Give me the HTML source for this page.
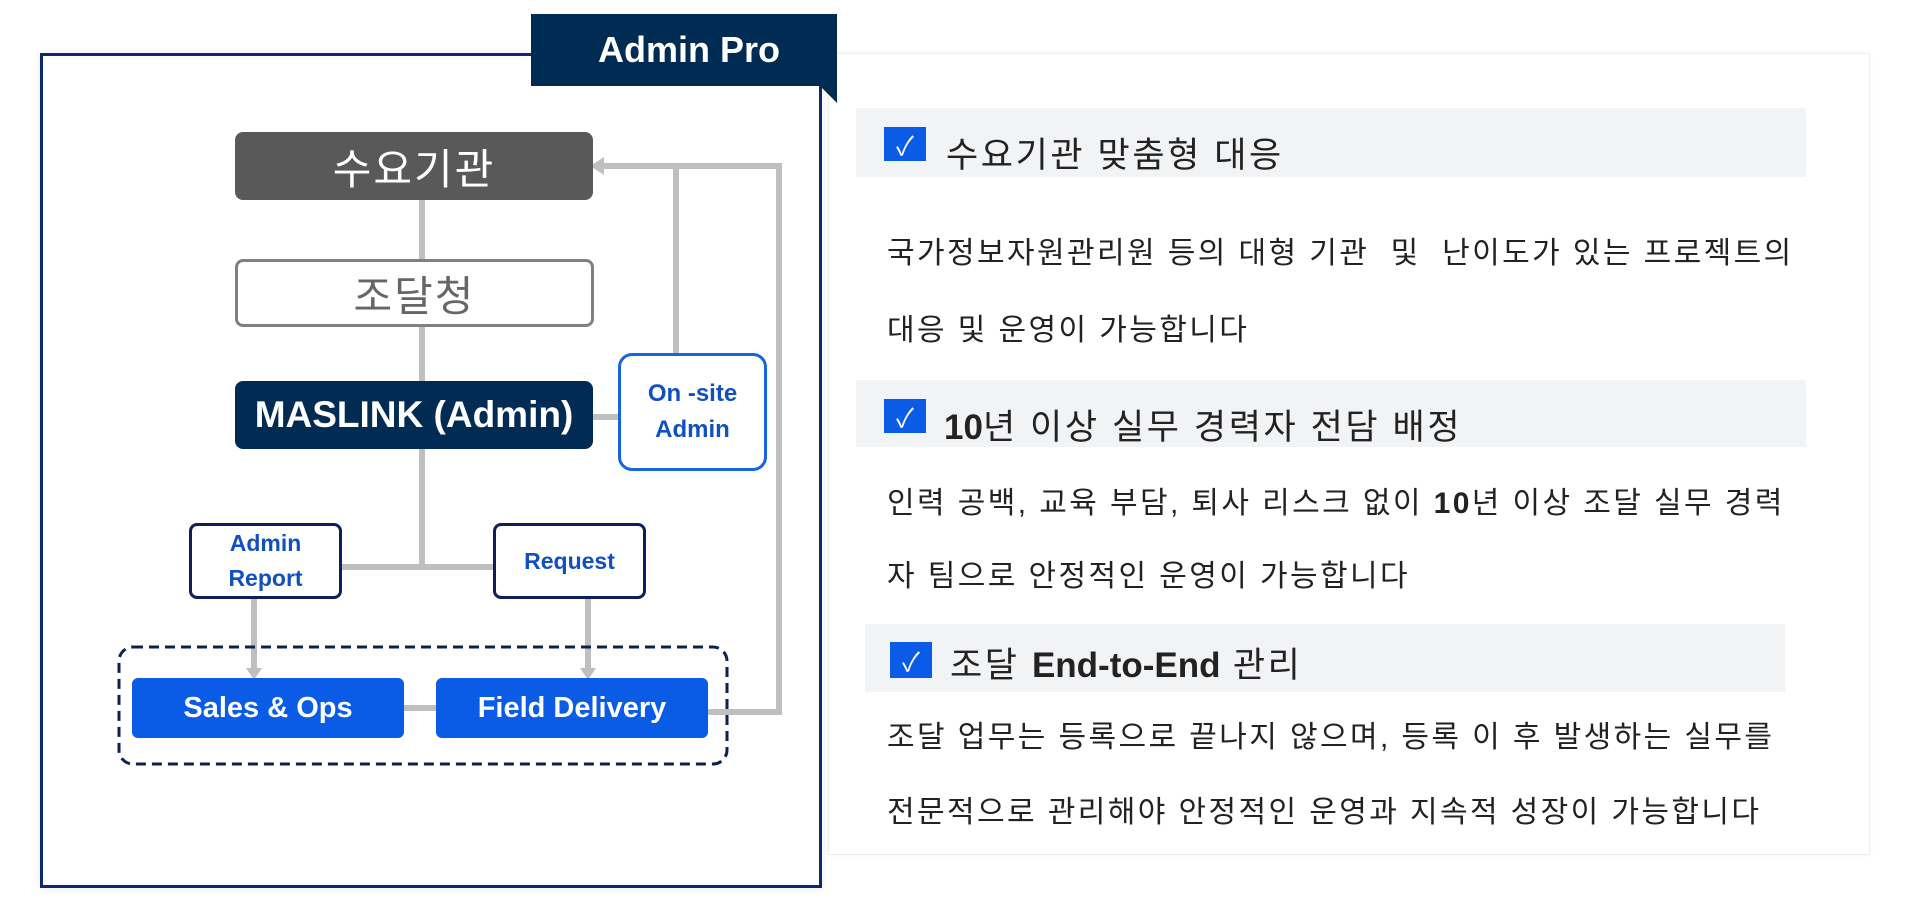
<!DOCTYPE html>
<html><head><meta charset="utf-8"><style>
body{margin:0;width:1912px;height:902px;background:#fff;position:relative;overflow:hidden;font-family:"Liberation Sans","Noto Sans CJK KR",sans-serif}
.a{position:absolute;box-sizing:border-box}
.c{display:flex;align-items:center;justify-content:center;text-align:center}
.hb{background:#f2f3f5}
.cb{background:#0a5ce6;color:#fff;font-size:26px;width:42px;height:34px}
.ht{font-size:35px;color:#222;white-space:nowrap;letter-spacing:2.6px}
.bt{font-size:30px;color:#222;white-space:nowrap;letter-spacing:2.4px}
.ht b{letter-spacing:0}
</style></head><body>
<div class="a" style="left:828px;top:53px;width:1042px;height:802px;border:1px solid #eee;box-shadow:0 0 6px rgba(0,0,0,0.04)"></div>
<div class="a" style="left:40px;top:53px;width:782px;height:835px;border:3px solid #0d2a6b;box-shadow:0 0 8px rgba(0,0,0,0.08);background:#fff"></div>
<div class="a c" style="left:531px;top:14px;width:306px;height:72px;background:#002b52;color:#fff;font-weight:bold;font-size:36px;padding-left:10px">Admin Pro</div>
<div class="a" style="left:820px;top:86px;width:0;height:0;border-left:17px solid #002b52;border-bottom:17px solid transparent;transform:translateX(-17px) scaleX(-1);transform-origin:right"></div>
<svg class="a" style="left:0;top:0" width="900" height="902">
<g stroke="#bfbfbf" stroke-width="6" fill="none">
<line x1="422" y1="200" x2="422" y2="567"/>
<line x1="342" y1="567" x2="493" y2="567"/>
<line x1="593" y1="417" x2="618" y2="417"/>
<line x1="676" y1="353" x2="676" y2="166"/>
<polyline points="600,166 779,166 779,712 708,712"/>
<line x1="404" y1="708" x2="436" y2="708"/>
<line x1="254" y1="599" x2="254" y2="670"/>
<line x1="588" y1="599" x2="588" y2="670"/>
</g>
<g fill="#bfbfbf">
<polygon points="590,166 604,157 604,175"/>
<polygon points="254,680 246,668 262,668"/>
<polygon points="588,680 580,668 596,668"/>
</g>
<rect x="119" y="647" width="608" height="117" rx="14" fill="none" stroke="#0d2252" stroke-width="3" stroke-dasharray="10,6"/>
</svg>
<div class="a c" style="left:235px;top:132px;width:358px;height:68px;background:#595959;border-radius:8px;color:#fff;font-size:42px;letter-spacing:2px">수요기관</div>
<div class="a c" style="left:235px;top:259px;width:359px;height:68px;border:3px solid #808080;border-radius:8px;color:#666;font-size:42px;letter-spacing:2px;background:#fff">조달청</div>
<div class="a c" style="left:235px;top:381px;width:358px;height:68px;background:#002b52;border-radius:8px;color:#fff;font-size:37px;font-weight:bold">MASLINK (Admin)</div>
<div class="a c" style="left:618px;top:353px;width:149px;height:118px;border:3px solid #1565e0;border-radius:14px;color:#1050c0;font-size:24px;font-weight:bold;line-height:36px;background:#fff">On -site<br>Admin</div>
<div class="a c" style="left:189px;top:523px;width:153px;height:76px;border:3px solid #0d1f5c;border-radius:8px;color:#1050c0;font-size:23px;font-weight:bold;line-height:35px;background:#fff">Admin<br>Report</div>
<div class="a c" style="left:493px;top:523px;width:153px;height:76px;border:3px solid #0d1f5c;border-radius:8px;color:#1050c0;font-size:23px;font-weight:bold;background:#fff">Request</div>
<div class="a c" style="left:132px;top:678px;width:272px;height:60px;background:#0a5ce6;border-radius:6px;color:#fff;font-size:29px;font-weight:bold">Sales &amp; Ops</div>
<div class="a c" style="left:436px;top:678px;width:272px;height:60px;background:#0a5ce6;border-radius:6px;color:#fff;font-size:29px;font-weight:bold">Field Delivery</div>

<div class="a hb" style="left:856px;top:108px;width:950px;height:69px"></div>
<div class="a cb c" style="left:884px;top:127px">✓</div>
<div class="a ht" style="left:946px;top:127px">수요기관 맞춤형 대응</div>
<div class="a bt" style="left:887px;top:228px">국가정보자원관리원 등의 대형 기관&nbsp; 및&nbsp; 난이도가 있는 프로젝트의</div>
<div class="a bt" style="left:887px;top:305px">대응 및 운영이 가능합니다</div>

<div class="a hb" style="left:856px;top:380px;width:950px;height:67px"></div>
<div class="a cb c" style="left:884px;top:399px">✓</div>
<div class="a ht" style="left:944px;top:399px"><b>10</b>년 이상 실무 경력자 전담 배정</div>
<div class="a bt" style="left:887px;top:478px">인력 공백, 교육 부담, 퇴사 리스크 없이 <b>10</b>년 이상 조달 실무 경력</div>
<div class="a bt" style="left:887px;top:551px">자 팀으로 안정적인 운영이 가능합니다</div>

<div class="a hb" style="left:865px;top:624px;width:920px;height:68px"></div>
<div class="a cb c" style="left:890px;top:642px;height:36px">✓</div>
<div class="a ht" style="left:950px;top:637px">조달 <b>End-to-End</b> 관리</div>
<div class="a bt" style="left:887px;top:712px">조달 업무는 등록으로 끝나지 않으며, 등록 이 후 발생하는 실무를</div>
<div class="a bt" style="left:887px;top:787px">전문적으로 관리해야 안정적인 운영과 지속적 성장이 가능합니다</div>
</body></html>
